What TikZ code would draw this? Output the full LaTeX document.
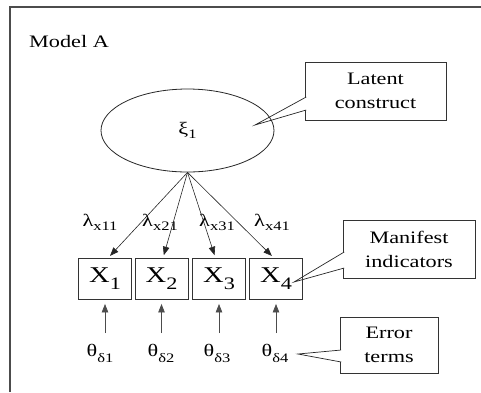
\documentclass[tikz,border=0pt]{standalone}
\usepackage{fontspec}
\setmainfont{Liberation Serif}[FakeStretch=1.27]
\usetikzlibrary{shapes.geometric,arrows.meta,calc}

\newcommand{\lowsub}[3][4.5pt]{#2\raisebox{-#1}{\fontsize{13}{13}\selectfont #3}}
\newcommand{\indsub}[1]{X\raisebox{-7pt}{\fontsize{17.5}{17.5}\selectfont #1}}

\tikzset{
  every node/.style={font=\fontsize{17.5}{24}\selectfont, text=black, inner sep=2pt},
  labelbox/.style={draw=black!80, line width=0.9pt, align=center, outer sep=0pt},
  indbox/.style={draw=black!80, line width=0.9pt, minimum width=53pt, minimum height=41pt,
    font=\fontsize{22.5}{24}\selectfont},
  pointer/.style={draw=black!85, fill=white, line width=0.7pt},
  loadarrow/.style={draw=black!85, line width=0.6pt, -{Triangle[length=8.5pt,width=6.5pt]}, shorten >=3pt},
  errarrow/.style={draw=black!70, line width=0.7pt, -{Triangle[length=8.5pt,width=6.5pt]},
    shorten >=4pt, shorten <=8.5pt}
}

\begin{document}
\begin{tikzpicture}[x=1pt,y=-1pt]
  \useasboundingbox (0,0) rectangle (481,392);

  %Frame
  \draw [black!70, line width=1.3pt] (10,392) -- (10,7) -- (481,7);
  \node [anchor=base west] (title) at (27,47) {Model A};

  %Callout boxes
  \node [labelbox, minimum width=141pt, minimum height=58pt] (latent) at (375.5,91) {Latent\\construct};
  \node [labelbox, minimum width=132pt, minimum height=58pt] (manifest) at (409,249) {Manifest\\indicators};
  \node [labelbox, minimum width=98pt, minimum height=56pt] (error) at (389,345) {Error\\terms};

  %Pointers
  \coordinate (latenttip) at (255,125);
  \coordinate (manifesttip) at (294,282);
  \coordinate (errortip) at (298,354);
  \path [pointer] ($(latent.west)+(1.2,6)$) -- (latenttip) -- ($(latent.west)+(1.2,19)$);
  \path [pointer] ($(manifest.west)+(1.2,3)$) -- (manifesttip) -- ($(manifest.west)+(1.2,19)$);
  \path [pointer] ($(error.west)+(1.2,5)$) -- (errortip) -- ($(error.west)+(1.2,17)$);

  %Latent construct
  \node [draw=black!85, ellipse, line width=0.8pt, minimum width=173pt, minimum height=83pt] (xi) at (187.5,130.5) {\lowsub{ξ}{1}};

  %Manifest indicators
  \node [indbox] (x1) at (105,279) {\indsub{1}};
  \node [indbox] (x2) at (161.5,279) {\indsub{2}};
  \node [indbox] (x3) at (219,279) {\indsub{3}};
  \node [indbox] (x4) at (276,279) {\indsub{4}};

  %Loadings
  \node [anchor=base] (l1) at (100,226) {\lowsub{λ}{x11}};
  \node [anchor=base] (l2) at (160,226) {\lowsub{λ}{x21}};
  \node [anchor=base] (l3) at (217,226) {\lowsub{λ}{x31}};
  \node [anchor=base] (l4) at (272,226) {\lowsub{λ}{x41}};
  \draw [loadarrow] (xi.south) -- ([xshift=3pt]x1.north);
  \draw [loadarrow] (xi.south) -- ([xshift=1.5pt]x2.north);
  \draw [loadarrow] (xi.south) -- ([xshift=-3.5pt]x3.north);
  \draw [loadarrow] (xi.south) -- ([xshift=-2pt]x4.north);

  %Error terms
  \node [anchor=base] (t1) at (100,356) {\lowsub[6pt]{θ}{δ1}};
  \node [anchor=base] (t2) at (161,356) {\lowsub[6pt]{θ}{δ2}};
  \node [anchor=base] (t3) at (217,356) {\lowsub[6pt]{θ}{δ3}};
  \node [anchor=base] (t4) at (275,356) {\lowsub[6pt]{θ}{δ4}};
  \draw [errarrow] (t1.north -| x1.south) -- (x1.south);
  \draw [errarrow] (t2.north -| x2.south) -- (x2.south);
  \draw [errarrow] (t3.north -| x3.south) -- (x3.south);
  \draw [errarrow] (t4.north -| x4.south) -- (x4.south);

\end{tikzpicture}
\end{document}
